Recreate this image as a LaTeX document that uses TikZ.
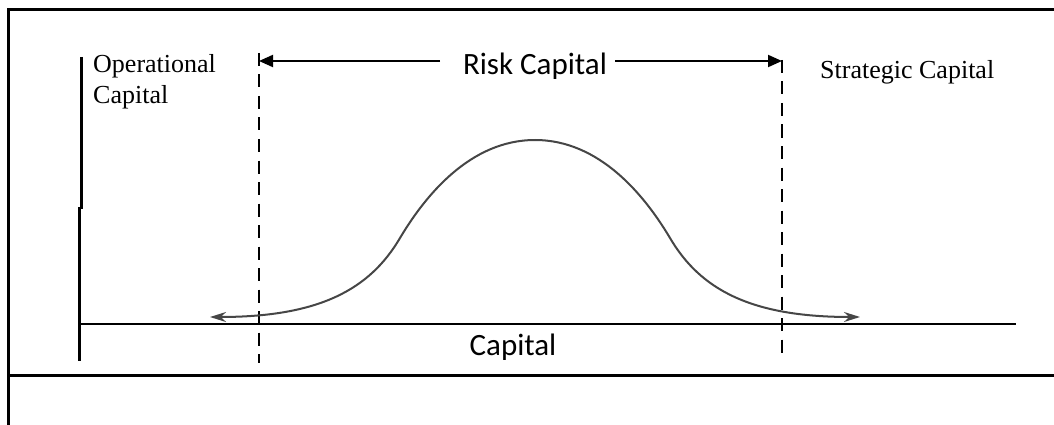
\documentclass[tikz,border=0pt]{standalone}
\usepackage{fontspec}
\setmainfont{Liberation Serif}
\newfontfamily\calib{Carlito}
\usetikzlibrary{arrows.meta}
\definecolor{curvegray}{RGB}{70,70,70}
\begin{document}
\begin{tikzpicture}[x=1pt,y=-1pt,
  frameline/.style={line width=3pt},
  axisline/.style={line width=2.2pt},
  dashline/.style={line width=2pt, dash pattern=on 13pt off 8.5pt},
  seriflabel/.style={font=\fontsize{26}{31}\selectfont, inner sep=0pt, align=left},
  sanslabel/.style={font=\calib\fontsize{31}{36}\selectfont, anchor=base, inner sep=0pt},
  riskarrow/.style={line width=2pt, -{Triangle[length=14pt,width=12pt]}},
  bell/.style={curvegray, line width=2pt, {Stealth[length=16pt,width=10pt]}-{Stealth[length=16pt,width=10pt]}}]
\useasboundingbox (0,0) rectangle (1054,425);
% frame
\draw[frameline] (1054,10) -- (8,10) -- (8,425);
\draw[frameline] (8,375) -- (1054,375);
% axes
\draw[axisline] (81.5,57) -- (81.5,208) -- (79.5,208) -- (79.5,361);
\draw[axisline] (79.5,324) -- (1016,324);
% dashed bounds
\coordinate (Ltop) at (259,53);
\coordinate (Lbot) at (259,363);
\coordinate (Rtop) at (782,60);
\coordinate (Rbot) at (782,357);
\draw[dashline] (Ltop) -- (Lbot);
\draw[dashline] (Rtop) -- (Rbot);
% Risk Capital arrow
\node[sanslabel] (rc) at (535,75) {Risk Capital};
\coordinate (La) at (440,61);
\coordinate (Ra) at (615,61);
\coordinate (L) at (259,61);
\coordinate (R) at (782,61);
\draw[riskarrow] (La) -- (L);
\draw[riskarrow] (Ra) -- (R);
% labels
\node[seriflabel, anchor=north west] (op) at (93,54) {Operational\\Capital};
\node[seriflabel, anchor=base west] (sc) at (820,79) {Strategic Capital};
\node[sanslabel] (cap) at (513,355) {Capital};
% bell curve
\coordinate (tailL) at (210,317);
\coordinate (inflL) at (400,238);
\coordinate (peak) at (535,140);
\coordinate (inflR) at (670,238);
\coordinate (tailR) at (860,317);
\draw[bell] (tailL) .. controls (320,317) and (370,289) .. (inflL)
  .. controls (425,196) and (470,140) .. (peak)
  .. controls (600,140) and (645,196) .. (inflR)
  .. controls (700,289) and (750,317) .. (tailR);
\end{tikzpicture}
\end{document}
